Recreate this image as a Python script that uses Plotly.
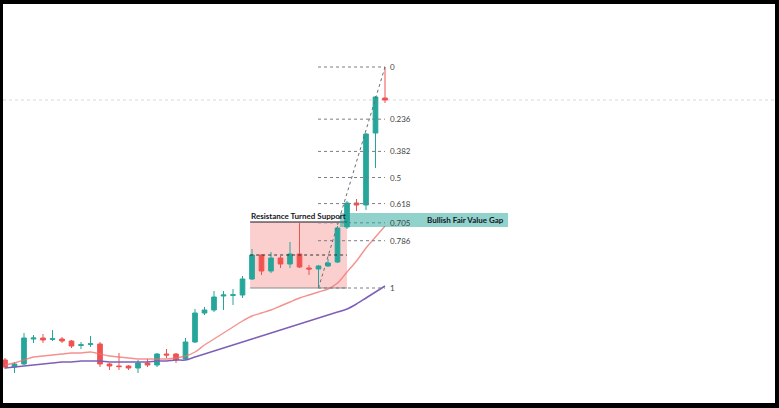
import plotly.graph_objects as go

# ---- data (price units) ----
bars = list(range(41))
opens = [48, 41, 44, 69, 70, 68.6, 69, 67, 62.6, 63.6, 64, 44, 42, 42, 40, 45, 43, 54, 54, 49,
         66, 95, 98, 112, 112.6, 113, 129, 153, 137, 150, 144, 154, 140, 139, 142, 146, 181, 205, 203, 275, 310]
highs = [50, 46, 75, 73, 74, 78, 71, 68, 66, 72, 66, 45, 55, 43, 48, 49, 55, 59, 55, 70,
         99, 101, 117, 117, 119, 132, 159, 154, 156, 152, 166, 185, 143, 143, 149, 182, 207, 209, 275, 312, 341]
lows = [39, 35, 43, 65, 65, 67, 65, 60, 59, 61, 41, 38, 38, 38, 35, 41, 41, 50, 45, 48,
        65, 93, 96, 98, 103, 110, 128, 133, 135, 140, 140, 140, 133, 120, 141, 145, 179, 197, 198, 240, 305]
closes = [41, 44, 70, 70, 68, 69.2, 67, 62, 63.2, 64.2, 44, 42, 41.4, 40, 45, 43, 54, 53, 48, 66,
          95, 98, 111, 113, 113.2, 129, 153, 137, 150, 144, 154, 141, 139, 142, 145, 180, 205, 203, 274, 311, 308]
ma_fast = [43, 45, 48, 51, 52, 53, 54, 55, 55, 56, 54, 52, 51, 50, 49, 49, 49, 49, 50, 52,
           56, 63, 69, 75, 81, 87, 92, 95, 98, 102, 106, 110, 113, 116, 119, 125, 136, 147, 160, 171, 182]
ma_slow = [40, 41, 42, 43, 44, 45, 46, 46, 47, 47, 47, 46, 46, 46, 46, 46, 47, 47, 48, 48,
           51, 54, 57, 60, 63, 66, 69, 72, 75, 78, 81, 84, 87, 90, 93, 96, 99, 104, 110, 116, 122]
fib_levels = [0, 0.236, 0.382, 0.5, 0.618, 0.705, 0.786, 1]
fib_labels = ["0", "0.236", "0.382", "0.5", "0.618", "0.705", "0.786", "1"]
swing_low_bar = 33
swing_high_bar = 40
zone_top = 186
zone_mid = 153
fvg_low = 181
fvg_high = 195

UP = "#26a69a"
DN = "#ef5350"
FONT = "Lato"

fig = go.Figure()
fig.add_trace(go.Scatter(x=bars, y=ma_slow, mode="lines",
                         line=dict(color="#7e5fb8", width=1.5, shape="spline", smoothing=0.8),
                         hoverinfo="skip"))
fig.add_trace(go.Scatter(x=bars, y=ma_fast, mode="lines",
                         line=dict(color="rgba(239,110,105,0.75)", width=1.4, shape="spline", smoothing=0.8),
                         hoverinfo="skip"))
fig.add_trace(go.Candlestick(
    x=bars, open=opens, high=highs, low=lows, close=closes,
    increasing=dict(line=dict(color=UP, width=1), fillcolor=UP),
    decreasing=dict(line=dict(color=DN, width=1), fillcolor=DN),
    whiskerwidth=0, hoverinfo="skip"))

lo = lows[swing_low_bar]
hi = highs[swing_high_bar]
shapes = []
annotations = []

# Resistance turned support zone
zx0, zx1 = 25.8, 36.0
shapes.append(dict(type="rect", xref="x", yref="y", x0=zx0, x1=zx1, y0=lo, y1=zone_top,
                   fillcolor="rgba(239,83,80,0.28)", line=dict(width=0), layer="below"))
shapes.append(dict(type="line", xref="x", yref="y", x0=zx0, x1=zx1, y0=zone_top, y1=zone_top,
                   line=dict(color="#131722", width=1)))
shapes.append(dict(type="line", xref="x", yref="y", x0=zx0, x1=zx1, y0=lo, y1=lo,
                   line=dict(color="#8a8a8a", width=1)))
shapes.append(dict(type="line", xref="x", yref="y", x0=zx0, x1=zx1, y0=zone_mid, y1=zone_mid,
                   line=dict(color="#333333", width=1, dash="dot")))
annotations.append(dict(x=(zx0 + zx1) / 2, y=zone_top, xref="x", yref="y",
                        text="<b>Resistance Turned Support</b>",
                        showarrow=False, yanchor="bottom", yshift=-1,
                        font=dict(family=FONT, size=8, color="#131722")))

# Fibonacci retracement
fx0, fx1 = swing_low_bar - 0.05, swing_high_bar
for lvl, lab in zip(fib_levels, fib_labels):
    yv = hi - lvl * (hi - lo)
    shapes.append(dict(type="line", xref="x", yref="y", x0=fx0, x1=fx1, y0=yv, y1=yv,
                       line=dict(color="#7a7d86", width=1, dash="dot")))
    annotations.append(dict(x=fx1 + 0.35, y=yv, xref="x", yref="y", text=lab, showarrow=False,
                            xanchor="left", yanchor="middle",
                            font=dict(family=FONT, size=8, color="#444")))
shapes.append(dict(type="line", xref="x", yref="y", x0=swing_low_bar, x1=swing_high_bar, y0=lo, y1=hi,
                   line=dict(color="#6a6d76", width=1, dash="dot")))

# Fair value gap
shapes.append(dict(type="rect", xref="x", yref="y", x0=35.26, x1=52.95, y0=fvg_low, y1=fvg_high,
                   fillcolor="rgba(38,166,154,0.5)", line=dict(width=0), layer="above"))
annotations.append(dict(x=52.7, y=(fvg_low + fvg_high) / 2, xref="x", yref="y",
                        text="<b>Bullish Fair Value Gap</b>",
                        showarrow=False, xanchor="right", yanchor="middle",
                        font=dict(family=FONT, size=8, color="#131722")))

# last price line
shapes.append(dict(type="line", xref="paper", yref="y", x0=0, x1=1, y0=closes[-1], y1=closes[-1],
                   line=dict(color="#d6d8de", width=1, dash="dot"), layer="below"))

fig.update_layout(
    width=779, height=408,
    margin=dict(l=3, r=4, t=4, b=5, autoexpand=False),
    paper_bgcolor="black", plot_bgcolor="white",
    showlegend=False,
    shapes=shapes, annotations=annotations,
    xaxis=dict(range=[-0.21, 81.05], showgrid=False, zeroline=False, showticklabels=False,
               rangeslider=dict(visible=False), fixedrange=True),
    yaxis=dict(range=[5, 404], showgrid=False, zeroline=False, showticklabels=False, fixedrange=True),
)
fig.write_html("out.html", config={"displayModeBar": False},
               post_script="document.body.style.margin='0';document.body.style.overflow='hidden';")
